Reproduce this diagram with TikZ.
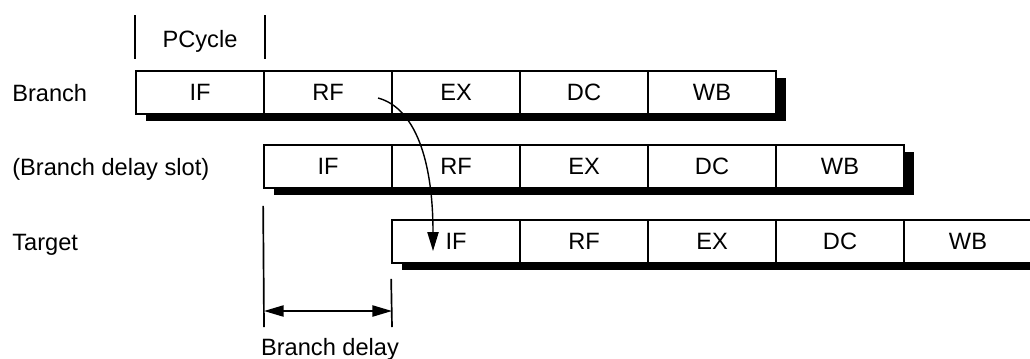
\documentclass[tikz,border=0pt]{standalone}
\usepackage{fontspec}
\setmainfont{Liberation Sans}
\usetikzlibrary{arrows.meta,calc,positioning}

\begin{document}
\begin{tikzpicture}[x=0.025cm,y=-0.025cm,font=\fontsize{16.8}{20}\selectfont,
  stage/.style={draw,line width=1.2pt,fill=white,minimum width=3.2cm,minimum height=1.075cm,inner sep=0pt},
  rowlabel/.style={anchor=base west,inner sep=0pt},
  tick/.style={line width=1.2pt},
  dimarrow/.style={line width=1.1pt,{Triangle[length=14pt,width=8pt]}-{Triangle[length=14pt,width=8pt]}},
  jump/.style={line width=1pt,-{Triangle[length=13.5pt,width=8pt]}}]
%Rahmen in Pixeln: 1030 x 358, y zeigt nach unten
\useasboundingbox (0,0) rectangle (1030,358);
\clip (0,0) rectangle (1030,358);
  \pgfmathsetmacro{\cellW}{128}
  \pgfmathsetmacro{\cellH}{43}
  \pgfmathsetmacro{\sx}{10}
  \pgfmathsetmacro{\sy}{7}
%Zeile: Name / Text / linke Kante / obere Kante
\foreach \r/\lbl/\xs/\yt in {b/Branch/136/71, s/{(Branch delay slot)}/264/145, t/Target/392/220}{
  \fill[black] (\xs+\sx,\yt+\sy) rectangle ++(5*\cellW,\cellH);
  \node[rowlabel] (lab\r) at (12,\yt+\cellH/2+8.5) {\lbl};
  \foreach \st [count=\i] in {IF,RF,EX,DC,WB}{
    \node[stage] (\r\i) at (\xs+\i*\cellW-\cellW/2,\yt+\cellH/2) {\st};
  }
}
%Takt oben
\draw[tick] ($(b1.north west)+(0,-55)$) -- ($(b1.north west)+(0,-11)$);
\draw[tick] ($(b1.north east)+(0,-55)$) -- ($(b1.north east)+(0,-11)$);
\node[anchor=base,inner sep=0pt] (pcycle) at (200,47) {PCycle};
%Verzoegerung unten
\draw[tick] ($(s1.south west)+(0,17)$) -- (264,327);
\draw[tick] ($(t1.south west)+(0,15)$) -- (392,327);
\coordinate (dl) at (264,311);
\coordinate (dr) at (392,311);
\draw[dimarrow] (dl) -- (dr);
\node[anchor=base,inner sep=0pt] (bdelay) at (330,355) {Branch delay};
%Sprung von RF nach IF
\coordinate (jfrom) at (378,98);
\coordinate (jto) at (433,251);
\draw[jump] (jfrom) .. controls (415,108) and (433,160) .. (jto);
\end{tikzpicture}
\end{document}
